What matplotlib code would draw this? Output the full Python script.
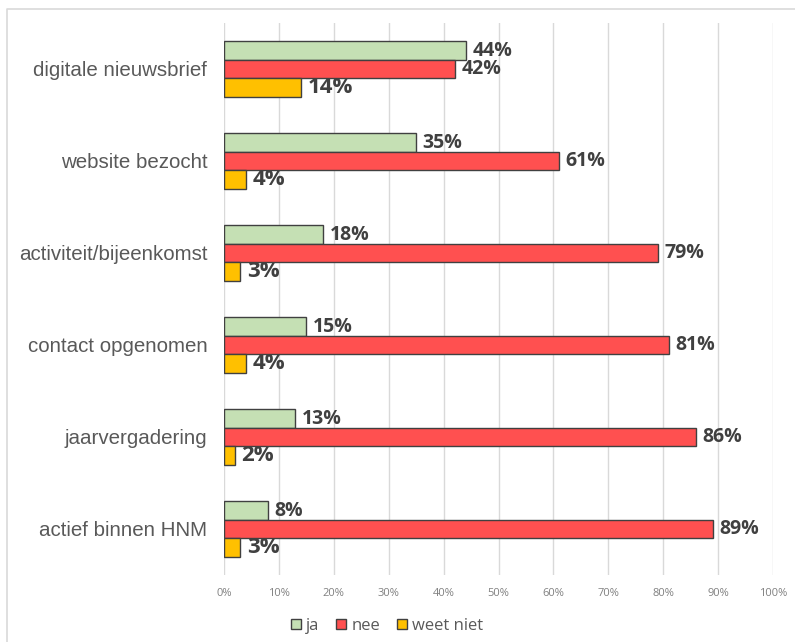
import matplotlib
matplotlib.use('Agg')
import matplotlib.pyplot as plt
import numpy as np
from matplotlib.lines import Line2D

categories = ['digitale nieuwsbrief', 'website bezocht', 'activiteit/bijeenkomst',
              'contact opgenomen', 'jaarvergadering', 'actief binnen HNM']
ja = [44, 35, 18, 15, 13, 8]
nee = [42, 61, 79, 81, 86, 89]
weet_niet = [14, 4, 3, 4, 2, 3]
series_names = ['ja', 'nee', 'weet niet']
colors = ['#C5E0B4', '#FF5050', '#FFC000']
ticks = list(range(0, 101, 10))

fig = plt.figure(figsize=(7.95, 6.42), dpi=100)
ax = fig.add_axes([224 / 795, 1 - 575 / 642, 549 / 795, 552 / 642])

# outer chart border (only top/left visible in the crop)
bx, by = 6.5 / 795, 1 - 8.5 / 642
fig.lines.append(Line2D([bx, bx, 1.0], [0.0, by, by], transform=fig.transFigure,
                        color='#D9D9D9', linewidth=1.2))

y = np.arange(len(categories))
h = 0.2
for i, (vals, name, col) in enumerate(zip([ja, nee, weet_niet], series_names, colors)):
    pos = y - h + i * h
    ax.barh(pos, vals, height=h, color=col, edgecolor='#404040',
            linewidth=1.0, label=name, zorder=3)
    for p, v in zip(pos, vals):
        fs = 16 if name == 'weet niet' else 14
        ax.text(v + 1.2, p, '%d%%' % v, va='center', ha='left', fontsize=fs,
                fontweight='bold', color='#404040', family='Open Sans', zorder=4)

ax.set_ylim(len(categories) - 0.5, -0.5)
ax.set_xlim(0, 100)
ax.set_xticks(ticks)
ax.set_xticklabels(['%d%%' % t for t in ticks], fontsize=8, color='#808080', family='Open Sans')
ax.set_yticks(y)
ax.set_yticklabels(categories, fontsize=14.8, color='#595959', family='Liberation Sans')
ax.tick_params(axis='both', length=0)
ax.tick_params(axis='x', pad=9)
ax.tick_params(axis='y', pad=12)
ax.grid(axis='x', color='#D9D9D9', linewidth=1, zorder=0)
for s in ax.spines.values():
    s.set_visible(False)

leg = fig.legend(loc='center', bbox_to_anchor=(387 / 795, 1 - 626 / 642), ncol=3,
                 frameon=False, handlelength=0.6, handleheight=0.6,
                 handletextpad=0.3, columnspacing=1.0,
                 prop={'family': 'Open Sans', 'size': 12})
for t in leg.get_texts():
    t.set_color('#595959')

fig.savefig('out.png', dpi=100)
